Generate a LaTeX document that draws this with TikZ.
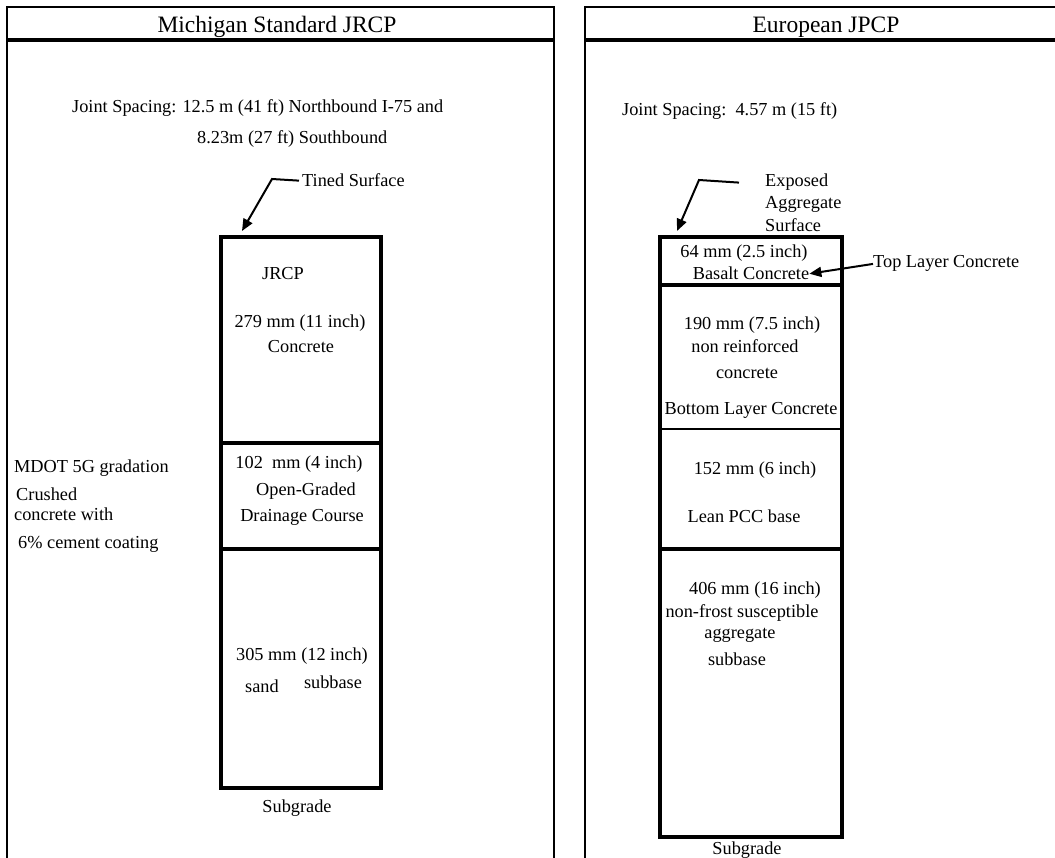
\documentclass[tikz,border=0pt]{standalone}
\usepackage{fontspec}
\setmainfont{Liberation Serif}
\usetikzlibrary{arrows.meta, positioning, calc}
\newcommand{\bodyfont}{\fontsize{18.3pt}{22pt}\selectfont}
\newcommand{\titlefont}{\fontsize{23.5pt}{28pt}\selectfont}

\begin{document}
\begin{tikzpicture}[x=1pt, y=-1pt,
  every node/.style={inner sep=0pt, font=\bodyfont},
  txt/.style={anchor=base},
  ltxt/.style={anchor=base west},
  frame/.style={line width=2.5pt},
  bar/.style={line width=3.5pt},
  layer/.style={line width=4pt},
  thinlayer/.style={line width=1.8pt},
  lead/.style={line width=2pt, -{Triangle[length=12pt,width=10pt]}}]
  \useasboundingbox (0,0) rectangle (1055,858);

  % panels
  \draw[frame] (7,858) -- (7,7) -- (554,7) -- (554,858);
  \draw[bar] (7,40) -- (554,40);
  \draw[frame] (585,858) -- (585,7) -- (1055,7);
  \draw[bar] (585,40) -- (1055,40);
  \node[txt, font=\titlefont] (titleL) at (277,33) {Michigan Standard JRCP};
  \node[txt, font=\titlefont] (titleR) at (826,33) {European JPCP};

  % Michigan section
  \node[ltxt] (jointL1) at (72,113) {Joint Spacing: 12.5 m (41 ft) Northbound I-75 and};
  \node[ltxt] (jointL2) at (197,144) {8.23m (27 ft) Southbound};
  \node[ltxt] (tined) at (302,187) {Tined Surface};
  \coordinate (tinedbend) at (272,179);
  \coordinate (tinedtip) at (242,231);
  \draw[lead] ([xshift=-3pt]tined.west) -- (tinedbend) -- (tinedtip);

  \draw[layer] (221,237) rectangle (381,788);
  \foreach \yy in {443,549} \draw[layer] (221,\yy) -- (381,\yy);
  \node[txt] (jrcp) at (283,280) {JRCP};
  \node[txt] (conc1) at (300,328) {279 mm (11 inch)};
  \node[txt] (conc2) at (301,353) {Concrete};
  \node[txt] (ogdc1) at (299,468) {102\ \ mm (4 inch)};
  \node[txt] (ogdc2) at (306,495) {Open-Graded};
  \node[txt] (ogdc3) at (302,521) {Drainage Course};
  \node[txt] (sand1) at (302,660) {305 mm (12 inch)};
  \node[txt] (sand2) at (262,692) {sand};
  \node[txt] (sand3) at (333,688) {subbase};
  \node[txt] (subgradeL) at (297,812) {Subgrade};

  \node[ltxt] (mdot1) at (14,472) {MDOT 5G gradation};
  \node[ltxt] (mdot2) at (16,500) {Crushed};
  \node[ltxt] (mdot3) at (14,520) {concrete with};
  \node[ltxt] (mdot4) at (18,548) {6\% cement coating};

  % European section
  \node[ltxt] (jointR) at (622,116) {Joint Spacing:\ \ 4.57 m (15 ft)};
  \node[ltxt] (exposed) at (765,187) {Exposed};
  \node[ltxt] (aggr) at (765,209) {Aggregate};
  \node[ltxt] (surf) at (765,232) {Surface};
  \coordinate (exposedbend) at (699,180);
  \coordinate (exposedtip) at (677,231);
  \draw[lead] ([xshift=-26pt]exposed.west) -- (exposedbend) -- (exposedtip);

  \draw[layer] (660,237) rectangle (842,837);
  \foreach \yy in {285,549} \draw[layer] (660,\yy) -- (842,\yy);
  \draw[thinlayer] (660,429) -- (842,429);
  \node[txt] (top1) at (744,258) {64 mm (2.5 inch)};
  \node[txt] (basalt) at (751,280) {Basalt Concrete};
  \node[ltxt] (toplayer) at (873,268) {Top Layer Concrete};
  \draw[lead] (toplayer.west) -- (basalt.east);
  \node[txt] (bot1) at (752,330) {190 mm (7.5 inch)};
  \node[txt] (bot2) at (745,353) {non reinforced};
  \node[txt] (bot3) at (747,379) {concrete};
  \node[txt] (bot4) at (751,414) {Bottom Layer Concrete};
  \node[txt] (lean1) at (755,474) {152 mm (6 inch)};
  \node[txt] (lean2) at (744,522) {Lean PCC base};
  \node[txt] (agg1) at (755,594) {406 mm (16 inch)};
  \node[txt] (agg2) at (742,617) {non-frost susceptible};
  \node[txt] (agg3) at (740,638) {aggregate};
  \node[txt] (agg4) at (737,665) {subbase};
  \node[txt] (subgradeR) at (747,854) {Subgrade};
\end{tikzpicture}
\end{document}
